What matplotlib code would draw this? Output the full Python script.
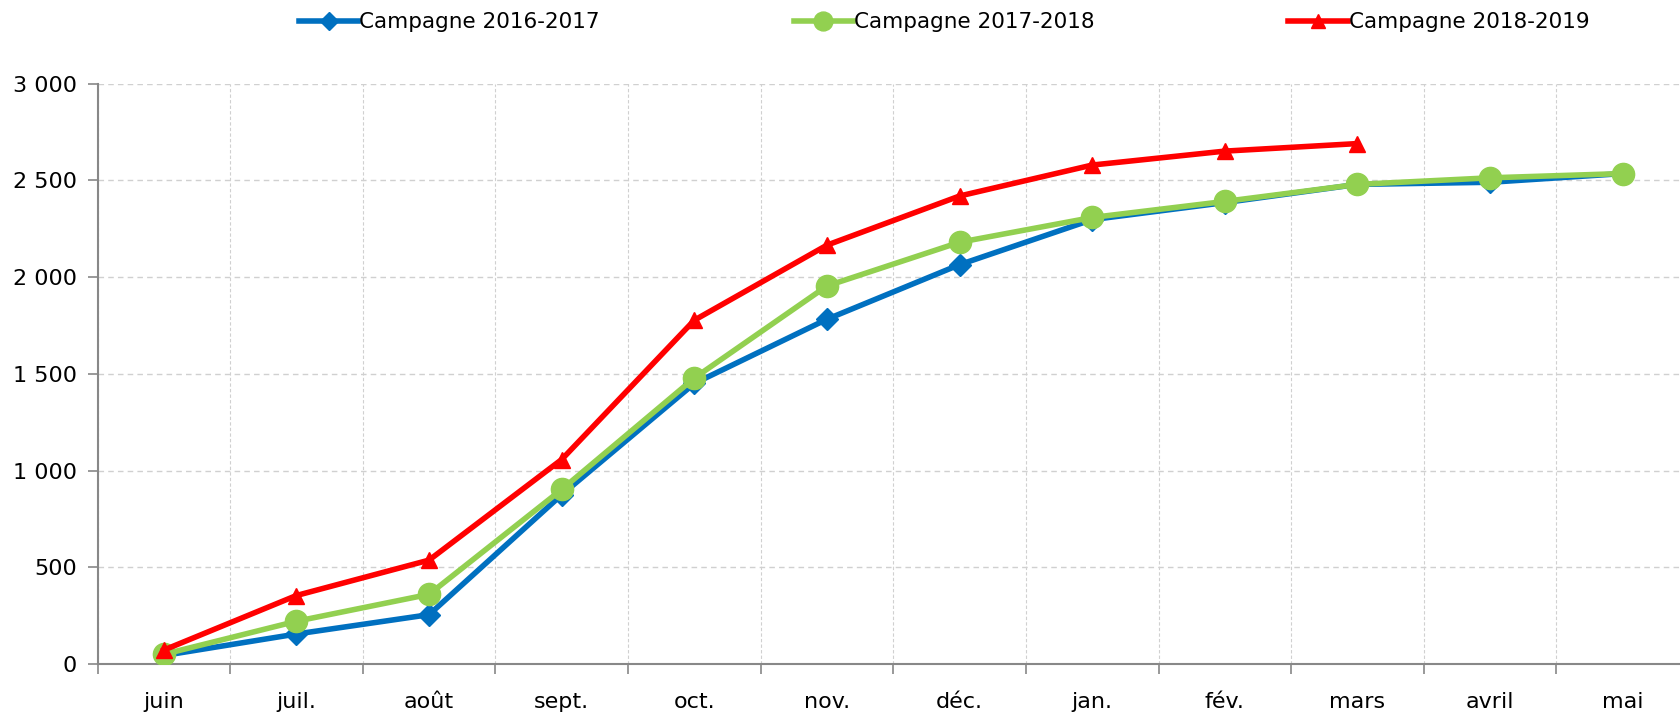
import matplotlib
matplotlib.use("Agg")
import matplotlib.pyplot as plt
from matplotlib.ticker import FuncFormatter, FixedLocator
import numpy as np

months = ["juin", "juil.", "août", "sept.", "oct.", "nov.", "déc.", "jan.", "fév.", "mars", "avril", "mai"]
s2016 = [44, 155, 255, 875, 1450, 1782, 2064, 2297, 2385, 2479, 2490, 2535]
s2017 = [50, 221, 360, 902, 1478, 1954, 2180, 2308, 2391, 2479, 2513, 2535]
s2018 = [72, 354, 537, 1057, 1777, 2165, 2419, 2579, 2651, 2690]
labels = ["Campagne 2016-2017", "Campagne 2017-2018", "Campagne 2018-2019"]

plt.rcParams['font.family'] = ['DejaVu Sans']
fig = plt.figure(figsize=(16.8, 7.14), dpi=100)
left = 97.5 / 1680
bottom = 1 - 664 / 714
top = 1 - 83.6 / 714
right = 1689 / 1680
ax = fig.add_axes([left, bottom, right - left, top - bottom])

x = np.arange(len(months))
l1, = ax.plot(x, s2016, color="#0070C0", lw=4, marker="D", ms=11, label=labels[0], zorder=3)
l2, = ax.plot(x, s2017, color="#92D050", lw=4, marker="o", ms=16, label=labels[1], zorder=4)
l3, = ax.plot(x[:len(s2018)], s2018, color="#FF0000", lw=4, marker="^", ms=12, label=labels[2], zorder=5)

ax.set_xlim(-0.5, len(months) - 0.5)
ax.set_ylim(0, 3000)
ax.set_yticks(np.arange(0, 3001, 500))
ax.yaxis.set_major_formatter(FuncFormatter(lambda v, p: f"{int(v):,}".replace(",", " ")))
ax.set_xticks(x)
ax.set_xticklabels(months)
ax.xaxis.set_minor_locator(FixedLocator(np.arange(-0.5, len(months), 1.0)))
ax.tick_params(axis='x', which='major', length=0, pad=20, labelsize=16)
ax.tick_params(axis='x', which='minor', length=7, width=1.2, color="#888888", direction='out')
ax.tick_params(axis='y', which='major', length=7, width=1.2, color="#888888", labelsize=16, pad=8)

ax.grid(True, axis='y', which='major', linestyle=(0, (4, 3)), color="#D0D0D0", lw=1)
ax.grid(True, axis='x', which='minor', linestyle=(0, (3, 2)), color="#D0D0D0", lw=0.8)
for s in ['top', 'right']:
    ax.spines[s].set_visible(False)
for s in ['left', 'bottom']:
    ax.spines[s].set_color("#888888")
    ax.spines[s].set_linewidth(1.5)

leg = fig.legend(handles=[l1, l2, l3], loc='upper center', bbox_to_anchor=(0.562, 1.01), ncol=3,
                 frameon=False, handlelength=2.75, handletextpad=0.05,
                 columnspacing=9.0, markerscale=0.85,
                 prop={'family': 'DejaVu Sans', 'size': 15.5})
fig.savefig("out.png", dpi=100)
